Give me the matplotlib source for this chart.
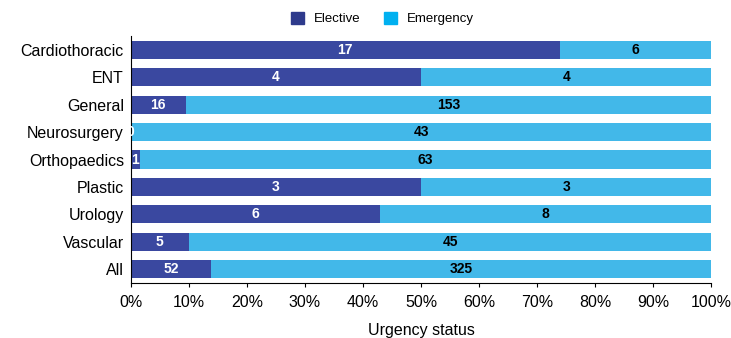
import numpy as np
import matplotlib.pyplot as plt
from matplotlib.ticker import PercentFormatter

specialties = ["Cardiothoracic", "ENT", "General", "Neurosurgery", "Orthopaedics",
               "Plastic", "Urology", "Vascular", "All"]
elective = np.array([17, 4, 16, 0, 1, 3, 6, 5, 52])
emergency = np.array([6, 4, 153, 43, 63, 3, 8, 45, 325])

ELECTIVE_C = "#3a48a0"
EMERGENCY_C = "#42b8e9"

plt.rcParams["font.family"] = ["Liberation Sans", "DejaVu Sans"]
narrow = ["Liberation Sans Narrow", "Liberation Sans", "DejaVu Sans"]

total = elective + emergency
el_pct = elective / total * 100
em_pct = emergency / total * 100
y = np.arange(len(specialties))

fig = plt.figure(figsize=(7.31, 3.38), dpi=100)
ax = fig.add_axes([0.179, 0.163, 0.794, 0.73])

ax.barh(y, el_pct, height=0.66, color=ELECTIVE_C, label="Elective")
ax.barh(y, em_pct, left=el_pct, height=0.66, color=EMERGENCY_C, label="Emergency")

for i in range(len(y)):
    ax.text(el_pct[i] / 2, y[i], str(elective[i]), ha="center", va="center",
            color="white", fontsize=10, fontweight="bold", family=narrow)
    ax.text(el_pct[i] + em_pct[i] / 2, y[i], str(emergency[i]), ha="center",
            va="center", color="black", fontsize=10, fontweight="bold", family=narrow)

ax.set_xlim(0, 100)
ax.set_ylim(len(y) - 0.5, -0.5)
ax.set_yticks(y)
ax.set_yticklabels(specialties, fontsize=11.5)
ax.tick_params(axis="y", length=0, pad=5)
ax.set_xticks(np.arange(0, 101, 10))
ax.xaxis.set_major_formatter(PercentFormatter(decimals=0))
ax.tick_params(axis="x", labelsize=11.5, length=3, pad=6)
ax.set_xlabel("Urgency status", fontsize=11.5, labelpad=9)

for s in ["top", "right"]:
    ax.spines[s].set_visible(False)

leg_handles = [plt.Rectangle((0, 0), 1, 1, color="#2e3a8c"),
               plt.Rectangle((0, 0), 1, 1, color="#00b0f0")]
fig.legend(leg_handles, ["Elective", "Emergency"], loc="center",
           bbox_to_anchor=(0.523, 0.945), ncol=2, frameon=False, fontsize=9.5,
           handlelength=1.0, handleheight=1.0, columnspacing=1.8, handletextpad=0.7)

fig.savefig("out.png", dpi=100)
